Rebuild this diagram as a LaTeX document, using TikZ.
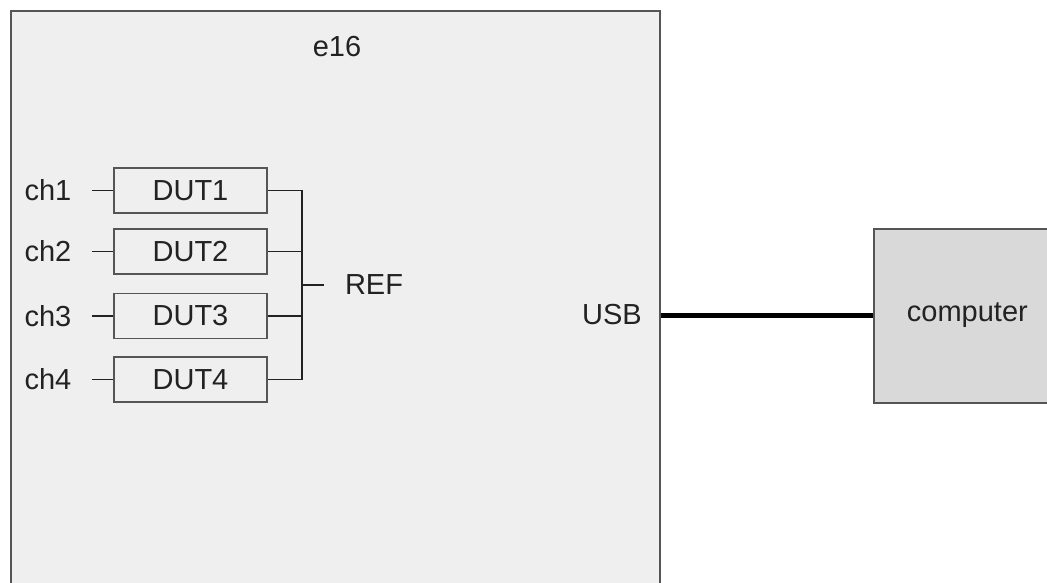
\documentclass[tikz,border=0pt]{standalone}
\usepackage{fontspec}
\setmainfont{Liberation Sans}
\definecolor{bgfill}{HTML}{EFEFEF}
\definecolor{pcfill}{HTML}{D9D9D9}
\definecolor{edge}{HTML}{555555}
\definecolor{ink}{HTML}{222222}
\begin{document}
\begin{tikzpicture}[x=1pt,y=-1pt,
  lbl/.style={font=\fontsize{29}{34}\selectfont, text=ink, inner sep=0pt},
  dutbox/.style={lbl, draw=edge, line width=1.6pt, fill=bgfill, minimum width=153pt, minimum height=45pt},
  wire/.style={draw=ink, line width=1.6pt},
  bigbox/.style={draw=edge, line width=1.8pt, inner sep=0pt, anchor=north west}]
\useasboundingbox (0,0) rectangle (1047,583);
\clip (0,0) rectangle (1047,583);
\fill[white] (0,0) rectangle (1047,583);
% main box
\node[bigbox, fill=bgfill, minimum width=649pt, minimum height=620pt] (e16box) at (10,10) {};
\node[lbl] (e16) at (337,47) {e16};
% computer
\node[bigbox, fill=pcfill, minimum width=187pt, minimum height=174pt] (pc) at (873,228) {};
\node[lbl] (pclabel) at ([yshift=1pt]pc.center) {computer};
% DUT boxes
\node[dutbox] (dut1) at (190.5,190.5) {DUT1};
\node[dutbox] (dut2) at (190.5,251.5) {DUT2};
\node[dutbox] (dut3) at (190.5,316) {DUT3};
\node[dutbox] (dut4) at (190.5,379.5) {DUT4};
% channel labels
\node[lbl] (ch1) at (48,190.5) {ch1};
\node[lbl] (ch2) at (48,251.5) {ch2};
\node[lbl] (ch3) at (48,316) {ch3};
\node[lbl] (ch4) at (48,379.5) {ch4};
\foreach \i in {1,2,3,4}{
  \draw[wire, shorten <=20pt] (ch\i.east) -- (ch\i.east -| dut\i.west);
}
% bus
\coordinate (bustop) at (302,190.5);
\coordinate (busbot) at (302,379.5);
\coordinate (busmid) at (302,285);
\node[lbl] (ref) at (374,285) {REF};
\foreach \i in {1,2,3,4}{
  \draw[wire] (dut\i.east) -- (dut\i.east -| bustop);
}
\draw[wire, line cap=rect] (bustop) -- (busbot);
\draw[wire, shorten >=21pt] (busmid) -- (ref.west);
% USB
\node[lbl] (usb) at (612,315) {USB};
\draw[draw=black, line width=5pt] (pc.west -| e16box.east) -- (pc.west);
\end{tikzpicture}
\end{document}
